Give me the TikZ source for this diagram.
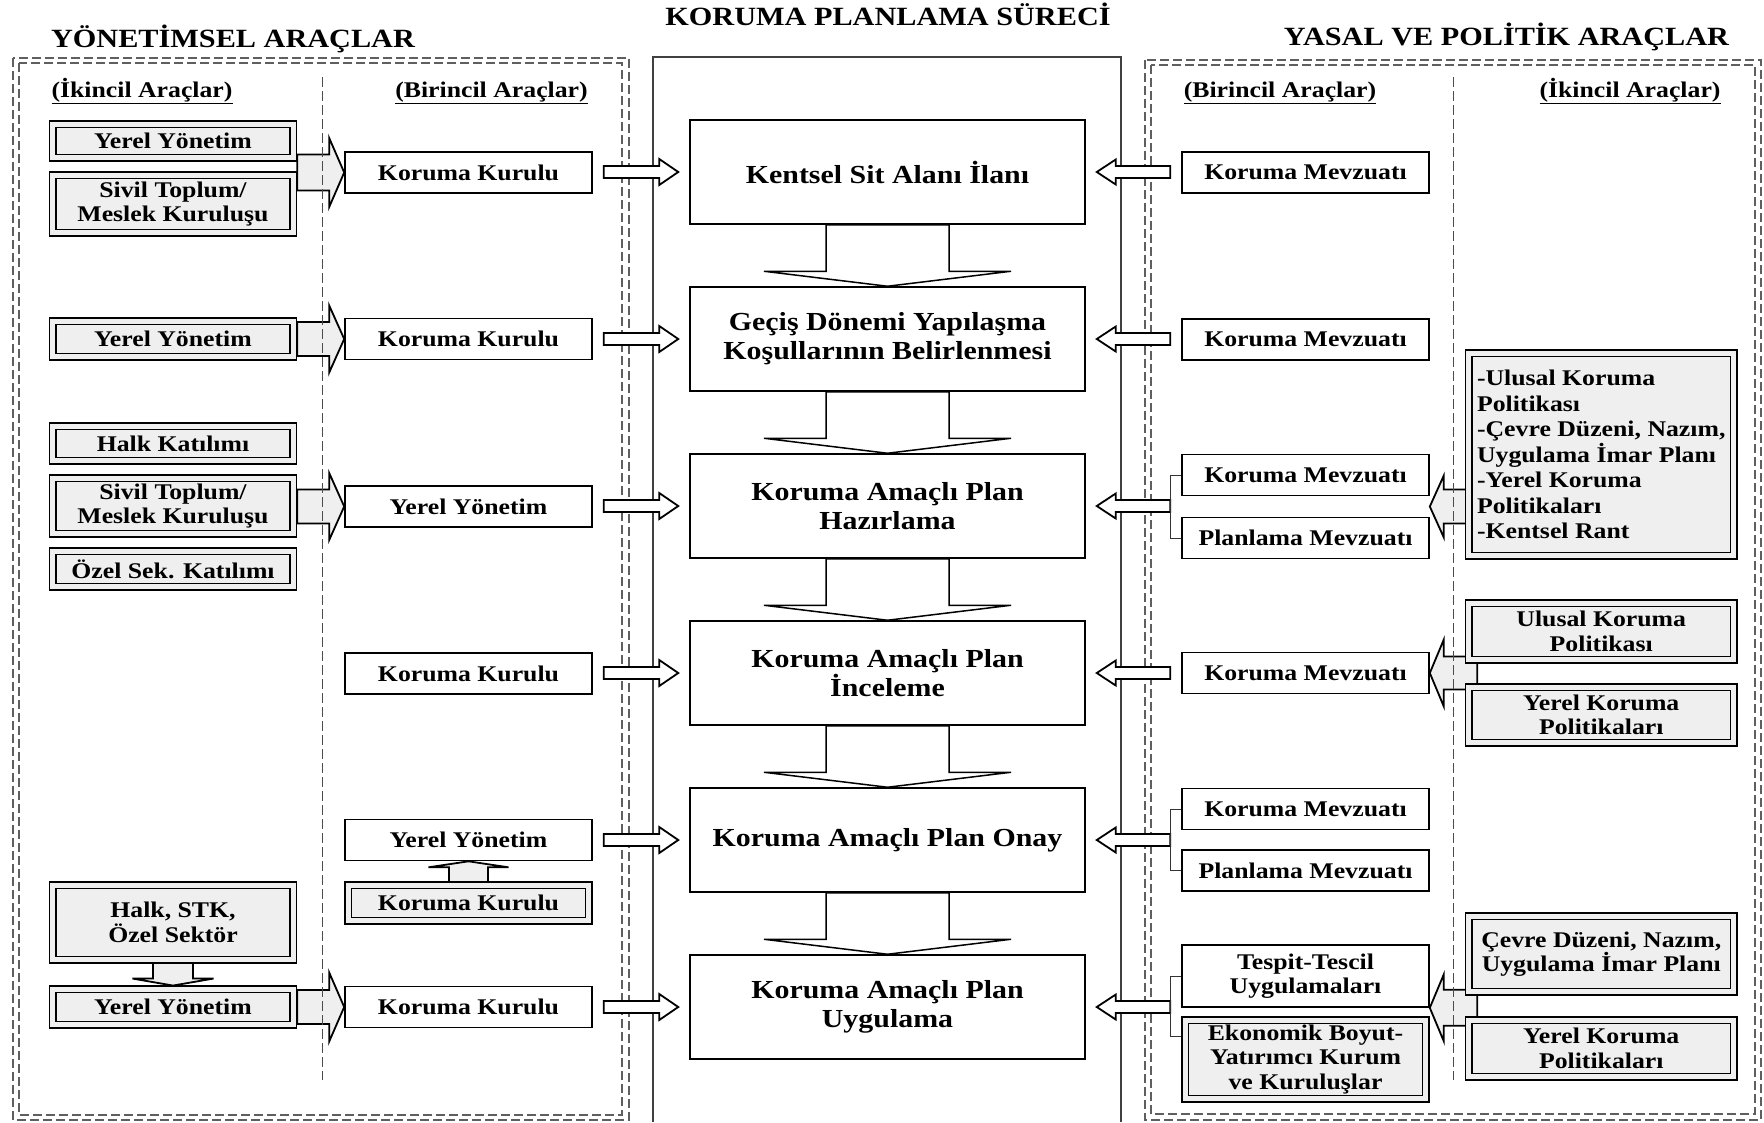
\documentclass[tikz,border=0pt]{standalone}
\usepackage{fontspec}
\setmainfont{Liberation Serif}[FakeStretch=1.15]
\usetikzlibrary{calc}
\pgfdeclarelayer{bg}
\pgfdeclarelayer{arr}
\pgfsetlayers{bg,arr,main}
\definecolor{gfill}{RGB}{239,239,239}
\definecolor{framec}{RGB}{95,95,95}
\newcommand\hblock[6]{%
  \draw[#6] ($(#1)+(0,#3)$) -- ($(#2)+({-1*(#5)},#3)$) -- ($(#2)+({-1*(#5)},#4)$) -- (#2) -- ($(#2)+({-1*(#5)},-#4)$) -- ($(#2)+({-1*(#5)},-#3)$) -- ($(#1)+(0,-#3)$) -- cycle;}
\newcommand\vblock[6]{%
  \draw[#6] ($(#1)+(#3,0)$) -- ($(#2)+(#3,{-1*(#5)})$) -- ($(#2)+(#4,{-1*(#5)})$) -- (#2) -- ($(#2)+(-#4,{-1*(#5)})$) -- ($(#2)+(-#3,{-1*(#5)})$) -- ($(#1)+(-#3,0)$) -- cycle;}
\begin{document}
\begin{tikzpicture}[x=1pt,y=-1pt,
  boxfont/.style={font=\fontsize{22.4}{24.5}\selectfont\bfseries},
  prim/.style={boxfont, draw, line width=1.6pt, fill=white, minimum width=247pt, minimum height=41pt, inner sep=0pt, align=center},
  sec/.style={boxfont, draw, line width=1.4pt, double=gfill, double distance=5pt, fill=gfill, minimum width=240.5pt, minimum height=35pt, inner sep=0pt, align=center},
  secw/.style={sec, minimum width=265pt},
  cbox/.style={draw, line width=1.5pt, fill=white, minimum width=395pt, minimum height=104pt, inner sep=0pt, align=center, font=\fontsize{26}{29}\selectfont\bfseries},
  title/.style={anchor=base, inner sep=0pt, font=\fontsize{26.3}{30}\selectfont\bfseries},
  hdr/.style={anchor=base, inner sep=0pt, boxfont},
  warrow/.style={draw, line width=1.8pt, fill=white},
  garrow/.style={draw, line width=1.8pt, fill=gfill},
  carrow/.style={draw, line width=1.5pt, fill=white},
  dframe/.style={draw=framec, line width=1.1pt, dash pattern=on 9pt off 4pt},
  cframe/.style={draw=black!75, line width=1.1pt},
  divider/.style={draw=black!70, line width=0.9pt, dash pattern=on 10pt off 4pt},
  brk/.style={draw=black!80, line width=1pt}
]
\useasboundingbox (0,0) rectangle (1764,1122);

% frames
\begin{pgfonlayer}{bg}
\draw[dframe] (13,58) rectangle (629,1120);
\draw[dframe] (19,63) rectangle (622,1115);
\draw[dframe] (1145,60) rectangle (1761,1120);
\draw[dframe] (1151,65) rectangle (1755,1114);
\draw[cframe] (653,1122) -- (653,57) -- (1121,57) -- (1121,1122);
\end{pgfonlayer}

% titles
\node[title] (tL) at (233,47) {YÖNETİMSEL ARAÇLAR};
\node[title] (tC) at (888,25) {KORUMA PLANLAMA SÜRECİ};
\node[title] (tR) at (1506.5,45) {YASAL VE POLİTİK ARAÇLAR};
\node[hdr] (hL1) at (142,97) {\underline{(İkincil Araçlar)}};
\node[hdr] (hL2) at (491.5,97) {\underline{(Birincil Araçlar)}};
\node[hdr] (hR1) at (1280,97) {\underline{(Birincil Araçlar)}};
\node[hdr] (hR2) at (1630,97) {\underline{(İkincil Araçlar)}};

% central process
\node[cbox] (C1) at (887.5,172) {Kentsel Sit Alanı İlanı};
\node[cbox] (C2) at (887.5,339) {Geçiş Dönemi Yapılaşma\\Koşullarının Belirlenmesi};
\node[cbox] (C3) at (887.5,506) {Koruma Amaçlı Plan\\Hazırlama};
\node[cbox] (C4) at (887.5,673) {Koruma Amaçlı Plan\\İnceleme};
\node[cbox] (C5) at (887.5,840) {Koruma Amaçlı Plan Onay};
\node[cbox] (C6) at (887.5,1007) {Koruma Amaçlı Plan\\Uygulama};

% left secondary
\node[sec, minimum height=33.5pt] (L1a) at (173,141) {Yerel Yönetim};
\node[sec, minimum height=57.5pt] (L1b) at (173,204) {Sivil Toplum/\\Meslek Kuruluşu};
\node[sec, minimum height=35.5pt] (L2) at (173,339) {Yerel Yönetim};
\node[sec, minimum height=34.5pt] (L3a) at (173,443.5) {Halk Katılımı};
\node[sec, minimum height=55.5pt] (L3b) at (173,506) {Sivil Toplum/\\Meslek Kuruluşu};
\node[sec, minimum height=35.5pt] (L3c) at (173,569) {Özel Sek. Katılımı};
\node[sec, minimum height=74.5pt] (L6a) at (173,922.5) {Halk, STK,\\Özel Sektör};
\node[sec, minimum height=35.5pt] (L6b) at (173,1007) {Yerel Yönetim};

% left primary
\node[prim] (P1) at (468.5,172.5) {Koruma Kurulu};
\node[prim] (P2) at (468.5,339) {Koruma Kurulu};
\node[prim] (P3) at (468.5,506.5) {Yerel Yönetim};
\node[prim] (P4) at (468.5,673.5) {Koruma Kurulu};
\node[prim] (P5) at (468.5,840) {Yerel Yönetim};
\node[sec, minimum height=35.5pt] (P5b) at (468.5,903) {Koruma Kurulu};
\node[prim] (P6) at (468.5,1007) {Koruma Kurulu};

% right primary
\node[prim] (R1) at (1305.5,172.5) {Koruma Mevzuatı};
\node[prim] (R2) at (1305.5,339.5) {Koruma Mevzuatı};
\node[prim] (R3a) at (1305.5,475) {Koruma Mevzuatı};
\node[prim] (R3b) at (1305.5,538) {Planlama Mevzuatı};
\node[prim] (R4) at (1305.5,673) {Koruma Mevzuatı};
\node[prim] (R5a) at (1305.5,809) {Koruma Mevzuatı};
\node[prim] (R5b) at (1305.5,870.5) {Planlama Mevzuatı};
\node[prim, minimum height=62pt] (R6a) at (1305.5,976) {Tespit-Tescil\\Uygulamaları};
\node[sec, minimum height=78.5pt] (R6b) at (1305.5,1059.5) {Ekonomik Boyut-\\Yatırımcı Kurum\\ve Kuruluşlar};

% right secondary
\node[secw, minimum height=202.5pt, align=left, font=\fontsize{22.4}{25.5}\selectfont\bfseries] (S3) at (1601.25,454.5) {-Ulusal Koruma\\Politikası\\-Çevre Düzeni, Nazım,\\Uygulama İmar Planı\\-Yerel Koruma\\Politikaları\\-Kentsel Rant};
\node[secw, minimum height=56.5pt] (S4a) at (1601.25,631.5) {Ulusal Koruma\\Politikası};
\node[secw, minimum height=55.5pt] (S4b) at (1601.25,715) {Yerel Koruma\\Politikaları};
\node[secw, minimum height=75.5pt] (S6a) at (1601.25,954) {Çevre Düzeni, Nazım,\\Uygulama İmar Planı};
\node[secw, minimum height=56.5pt] (S6b) at (1601.25,1048.5) {Yerel Koruma\\Politikaları};

% dividers
\draw[divider] (322,77) -- (322,1080);
\draw[divider] (1453,77) -- (1453,1080);

\begin{pgfonlayer}{arr}
% central downward arrows
\vblock{C1.south}{C2.north}{61.5}{123.5}{15}{carrow}
\vblock{C2.south}{C3.north}{61.5}{123.5}{15}{carrow}
\vblock{C3.south}{C4.north}{61.5}{123.5}{15}{carrow}
\vblock{C4.south}{C5.north}{61.5}{123.5}{15}{carrow}
\vblock{C5.south}{C6.north}{61.5}{123.5}{15}{carrow}

% left primary -> centre
\foreach \i in {1,...,6} {
  \coordinate (lt\i) at ($(P\i.east |- C\i.west)+(11,0)$);
  \coordinate (lh\i) at ($(C\i.west)+(-11,0)$);
  \hblock{lt\i}{lh\i}{6}{13}{19}{warrow}
}
% right primary -> centre
\foreach \i/\r in {1/R1,2/R2,3/R3a,4/R4,5/R5a,6/R6a} {
  \coordinate (rt\i) at ($(\r.west |- C\i.east)+(-11,0)$);
  \coordinate (rh\i) at ($(C\i.east)+(11,0)$);
  \hblock{rt\i}{rh\i}{6}{12.5}{-19}{warrow}
}
% brackets
\draw[brk] (R3a.west) -- ++(-11,0) |- (R3b.west);
\draw[brk] (R5a.west) -- ++(-11,0) |- (R5b.west);
\coordinate (e6) at ($(R6b.north west)+(0,17)$);
\draw[brk] (R6a.west) -- ++(-11,0) |- (e6);

% left secondary -> primary
\coordinate (gt1) at ($(L1a.east |- P1.west)+(3.25,0)$);
\hblock{gt1}{P1.west}{18}{34.5}{15}{garrow}
\coordinate (gt2) at ($(L2.east |- P2.west)+(3.25,0)$);
\hblock{gt2}{P2.west}{17}{33.5}{15}{garrow}
\coordinate (gt3) at ($(L3b.east |- P3.west)+(3.25,0)$);
\hblock{gt3}{P3.west}{17}{33.5}{15}{garrow}
\coordinate (gt6) at ($(L6b.east |- P6.west)+(3.25,0)$);
\hblock{gt6}{P6.west}{17}{34.5}{15}{garrow}

% vertical small arrows
\vblock{P5b.north}{P5.south}{19.5}{40}{-6}{garrow}
\coordinate (dtip) at ($(L6b.north)+(0,-3)$);
\vblock{L6a.south}{dtip}{20}{40.5}{7}{garrow}

% right secondary -> primary
\coordinate (gh3) at ($(R3a.east)!0.5!(R3b.east)$);
\coordinate (gs3) at ($(S3.west |- gh3)+(9.25,0)$);
\hblock{gs3}{gh3}{17}{31}{-14}{garrow}
\coordinate (gs4) at ($(S4a.west |- R4.east)+(9.25,0)$);
\hblock{gs4}{R4.east}{16.5}{33.5}{-14}{garrow}
\coordinate (gs6) at ($(S6a.west |- R6a.south east)+(9.25,0)$);
\hblock{gs6}{R6a.south east}{18}{33.5}{-14}{garrow}
\end{pgfonlayer}
\end{tikzpicture}
\end{document}
